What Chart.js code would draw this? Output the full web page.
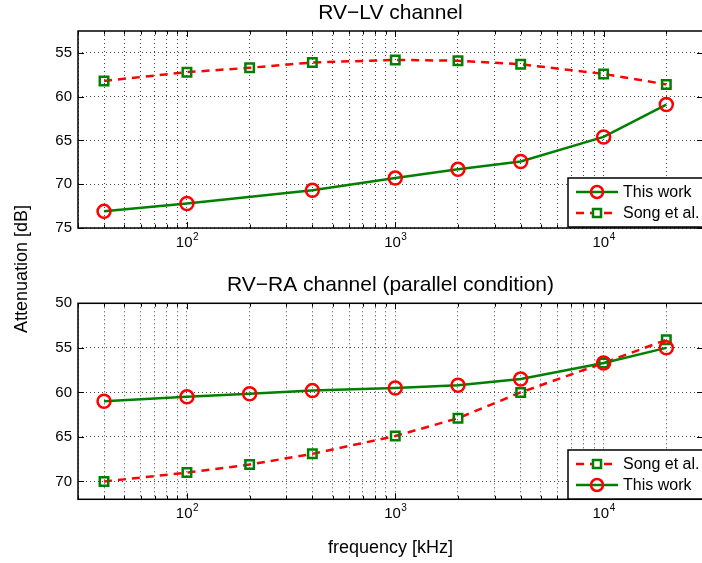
<!DOCTYPE html>
<html>
<head>
<meta charset="utf-8">
<title>Attenuation vs frequency</title>
<script src="https://cdn.jsdelivr.net/npm/chart.js@4.4.1/dist/chart.umd.min.js"></script>
<style>
  html, body { margin: 0; padding: 0; background: #fff; overflow: hidden; }
  #wrap { position: relative; width: 702px; height: 563px; overflow: hidden; }
  #topChart { position: absolute; left: 0; top: 0; }
  #bottomChart { position: absolute; left: 0; top: 250px; }
  #ylab {
    position: absolute; left: 11px; top: 201px; height: 136px;
    writing-mode: vertical-rl; transform: rotate(180deg); text-align: center;
    font: 18px "Liberation Sans", Arial, sans-serif; color: #000; white-space: nowrap;
  }
</style>
</head>
<body>
<div id="wrap">
  <canvas id="topChart" width="712" height="250"></canvas>
  <canvas id="bottomChart" width="712" height="313"></canvas>
  <div id="ylab">Attenuation [dB]</div>
</div>
<script>
// --- DATA ---
const freqTop = [40, 100, 200, 400, 1000, 2000, 4000, 10000, 20000];
const freqTopThisWork = [40, 100, 400, 1000, 2000, 4000, 10000, 20000];
const thisWorkTop = [73.1, 72.2, 70.7, 69.3, 68.3, 67.4, 64.6, 60.9];
const songTop = [58.2, 57.2, 56.7, 56.1, 55.8, 55.9, 56.3, 57.4, 58.6];

const freqBottom = [40, 100, 200, 400, 1000, 2000, 4000, 10000, 20000];
const thisWorkBottom = [61.0, 60.5, 60.15, 59.8, 59.5, 59.2, 58.5, 56.7, 55.0];
const songBottom = [70.0, 69.0, 68.1, 66.9, 64.9, 62.9, 60.0, 56.7, 54.1];

const xGridTicks = [30, 40, 50, 60, 70, 80, 90,
  100, 200, 300, 400, 500, 600, 700, 800, 900,
  1000, 2000, 3000, 4000, 5000, 6000, 7000, 8000, 9000,
  10000, 20000, 30000];
const xLabelTicks = [100, 1000, 10000];
const yTicksTop = [55, 60, 65, 70, 75];
const yTicksBottom = [50, 55, 60, 65, 70];

const FONT = '"Liberation Sans", Arial, sans-serif';
const GREEN = '#008000';
const RED = '#ff0000';

const pts = (xs, ys) => xs.map((x, i) => ({ x: x, y: ys[i] }));

const thisWorkStyle = {
  label: 'This work',
  borderColor: GREEN, borderWidth: 2.5,
  pointStyle: 'circle', pointRadius: 6.5,
  pointBorderColor: RED, pointBackgroundColor: 'rgba(0,0,0,0)', pointBorderWidth: 2.5,
  tension: 0, fill: false
};
const songStyle = {
  label: 'Song et al.',
  borderColor: RED, borderWidth: 2.5, borderDash: [8, 6],
  pointStyle: 'rect', pointRadius: 6,
  pointBorderColor: GREEN, pointBackgroundColor: 'rgba(0,0,0,0)', pointBorderWidth: 2.5,
  tension: 0, fill: false
};

// title over the axes box, frame, inner ticks, 10^n labels, boxed legend
const matlabAxes = {
  id: 'matlabAxes',
  afterDraw(chart, args, opts) {
    const ctx = chart.ctx;
    const a = chart.chartArea;
    const xs = chart.scales.x, ys = chart.scales.y;
    ctx.save();

    // title, centred on the axes box
    ctx.fillStyle = '#000';
    ctx.font = '21px ' + FONT;
    ctx.textAlign = 'center';
    ctx.textBaseline = 'middle';
    ctx.fillText(opts.title, (a.left + a.right) / 2, a.top - 18);

    // inner tick marks
    ctx.strokeStyle = '#000';
    ctx.lineWidth = 1;
    ctx.beginPath();
    xGridTicks.forEach(v => {
      const px = Math.round(xs.getPixelForValue(v)) + 0.5;
      const len = xLabelTicks.includes(v) ? 6 : 3.5;
      ctx.moveTo(px, a.bottom); ctx.lineTo(px, a.bottom - len);
      ctx.moveTo(px, a.top); ctx.lineTo(px, a.top + len);
    });
    ys.ticks.forEach(t => {
      const py = Math.round(ys.getPixelForValue(t.value)) + 0.5;
      ctx.moveTo(a.left, py); ctx.lineTo(a.left + 6, py);
      ctx.moveTo(a.right, py); ctx.lineTo(a.right - 6, py);
    });
    ctx.stroke();
    // frame
    ctx.lineWidth = 1.5;
    ctx.strokeRect(a.left, a.top, a.right - a.left, a.bottom - a.top);

    // x tick labels: 10^n
    ctx.fillStyle = '#000';
    ctx.textBaseline = 'middle';
    xLabelTicks.forEach(v => {
      const px = xs.getPixelForValue(v);
      const exp = String(Math.round(Math.log10(v)));
      ctx.font = '15px ' + FONT;
      const w = ctx.measureText('10').width;
      ctx.font = '10px ' + FONT;
      const we = ctx.measureText(exp).width;
      const x0 = px - (w + we) / 2;
      ctx.font = '15px ' + FONT;
      ctx.textAlign = 'left';
      ctx.fillText('10', x0, a.bottom + 15);
      ctx.font = '10px ' + FONT;
      ctx.fillText(exp, x0 + w + 0.5, a.bottom + 9);
    });

    // legend box
    const lx = opts.x, ly = opts.y, lw = 150, lh = 49;
    ctx.fillStyle = '#fff';
    ctx.fillRect(lx, ly, lw, lh);
    ctx.strokeStyle = '#000';
    ctx.lineWidth = 1.5;
    ctx.strokeRect(lx, ly, lw, lh);
    opts.order.forEach((dsIndex, i) => {
      const ds = chart.data.datasets[dsIndex];
      const cy = ly + 14 + i * 21;
      ctx.save();
      ctx.strokeStyle = ds.borderColor;
      ctx.lineWidth = ds.borderWidth;
      ctx.setLineDash(ds.borderDash ? [8, 6] : []);
      ctx.beginPath();
      ctx.moveTo(lx + 8, cy); ctx.lineTo(lx + 50, cy);
      ctx.stroke();
      ctx.setLineDash([]);
      ctx.strokeStyle = ds.pointBorderColor;
      ctx.lineWidth = ds.pointBorderWidth;
      ctx.beginPath();
      if (ds.pointStyle === 'rect') {
        ctx.fillStyle = '#fff';
        ctx.rect(lx + 29 - 4, cy - 4, 8, 8);
        ctx.fill();
      } else {
        ctx.arc(lx + 29, cy, 6, 0, Math.PI * 2);
      }
      ctx.stroke();
      ctx.restore();
      ctx.fillStyle = '#000';
      ctx.font = '16px ' + FONT;
      ctx.textAlign = 'left';
      ctx.textBaseline = 'middle';
      ctx.fillText(ds.label, lx + 55, cy + 1);
    });
    ctx.restore();
  }
};

function makeOptions(yMin, yMax, yTicks, topPad, axisHeight, extraOpts, showXTitle) {
  return {
    responsive: false,
    animation: false,
    layout: { padding: { left: 0, right: 5.5, top: topPad, bottom: 0 } },
    plugins: {
      legend: { display: false },
      tooltip: { enabled: false },
      title: { display: false },
      matlabAxes: extraOpts
    },
    scales: {
      x: {
        type: 'logarithmic', min: 30, max: 30000,
        afterBuildTicks: s => { s.ticks = xGridTicks.map(v => ({ value: v })); },
        afterFit: s => { s.height = axisHeight; },
        ticks: { display: false },
        grid: { color: '#444', lineWidth: 1, drawTicks: false },
        border: { display: false, dash: [1, 3] },
        title: {
          display: showXTitle, text: 'frequency [kHz]', color: '#000',
          font: { family: FONT, size: 18 }, padding: { top: 0, bottom: 4 }
        }
      },
      y: {
        reverse: true, min: yMin, max: yMax,
        afterBuildTicks: s => { s.ticks = yTicks.map(v => ({ value: v })); },
        afterFit: s => { s.width = 78; },
        ticks: { color: '#000', font: { family: FONT, size: 15 }, padding: 6 },
        grid: { color: '#444', lineWidth: 1, drawTicks: false },
        border: { display: false, dash: [1, 3] }
      }
    }
  };
}

new Chart(document.getElementById('topChart'), {
  type: 'line',
  data: {
    datasets: [
      Object.assign({ data: pts(freqTopThisWork, thisWorkTop) }, thisWorkStyle),
      Object.assign({ data: pts(freqTop, songTop) }, songStyle)
    ]
  },
  options: makeOptions(52.5, 75, yTicksTop, 31, 22,
    { title: 'RV\u2212LV channel', x: 568, y: 178, order: [0, 1] }, false),
  plugins: [matlabAxes]
});

new Chart(document.getElementById('bottomChart'), {
  type: 'line',
  data: {
    datasets: [
      Object.assign({ data: pts(freqBottom, thisWorkBottom) }, thisWorkStyle),
      Object.assign({ data: pts(freqBottom, songBottom) }, songStyle)
    ]
  },
  options: makeOptions(50, 72, yTicksBottom, 53.3, 63.7,
    { title: 'RV\u2212RA channel (parallel condition)', x: 568, y: 200, order: [1, 0] }, true),
  plugins: [matlabAxes]
});
</script>
</body>
</html>
